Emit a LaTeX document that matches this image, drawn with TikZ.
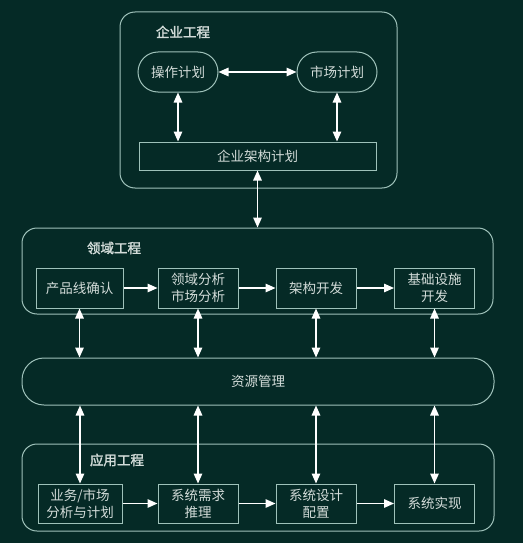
\documentclass[tikz,border=0pt]{standalone}
\usepackage{fontspec}
\setmainfont{Noto Sans CJK SC}[AutoFakeBold=2]
\usetikzlibrary{arrows.meta,positioning}
\definecolor{BgTeal}{HTML}{052A26}
\definecolor{LineTeal}{HTML}{9FC2BA}
\definecolor{TextGray}{HTML}{D3DCD9}

\begin{document}
\begin{tikzpicture}[x=1pt,y=-1pt,>={Triangle[length=10pt,width=8.5pt]},
  group/.style={draw=LineTeal,line width=1pt,rounded corners=15pt,inner sep=0pt},
  plan/.style={draw=LineTeal,line width=1pt,text=TextGray,align=center,inner sep=1pt,
    font=\fontsize{13.5}{17}\selectfont,minimum width=80pt,minimum height=40pt},
  pill/.style={plan,rounded corners=20pt},
  title/.style={text=TextGray,font=\bfseries\fontsize{13.5}{17}\selectfont},
  link/.style={<->,white,line width=1.5pt},
  flow/.style={->,white,line width=1.5pt}]
  \fill[BgTeal] (0,0) rectangle (523,543);
  \useasboundingbox (0,0) rectangle (523,543);

  \node[group,minimum width=277pt,minimum height=176pt] (ent) at (258.5,100) {};
  \node[title] (entT) at (183,32) {企业工程};
  \node[pill] (op) at (178,72) {操作计划};
  \node[pill] (mk) at (337,72) {市场计划};
  \node[plan,minimum width=237pt,minimum height=28pt] (ea) at (257.5,156) {企业架构计划};

  \node[group,minimum width=471pt,minimum height=86pt] (dom) at (257.5,271) {};
  \node[title] (domT) at (114,248) {领域工程};
  \node[plan,minimum width=87pt] (d1) at (79.5,288) {产品线确认};
  \node[plan] (d2) at (198,288) {领域分析\\市场分析};
  \node[plan] (d3) at (316,288) {架构开发};
  \node[plan] (d4) at (434.5,288) {基础设施\\开发};

  \node[group,rounded corners=22pt,minimum width=472pt,minimum height=47pt,
    text=TextGray,font=\fontsize{13.5}{17}\selectfont] (res) at (258,381.5) {资源管理};

  \node[group,minimum width=472pt,minimum height=87pt] (app) at (258,487.5) {};
  \node[title] (appT) at (117,460) {应用工程};
  \node[plan,minimum width=84pt,minimum height=39pt] (a1) at (80,503.5) {业务/市场\\分析与计划};
  \node[plan,minimum height=39pt] (a2) at (198,503.5) {系统需求\\推理};
  \node[plan,minimum height=39pt] (a3) at (316,503.5) {系统设计\\配置};
  \node[plan,minimum height=39pt] (a4) at (434.5,503.5) {系统实现};

  \draw[link] (op) -- (mk);
  \draw[link] (op.south) -- (op.south |- ea.north);
  \draw[link] (mk.south) -- (mk.south |- ea.north);
  \draw[link] (ea.south) -- (ea.south |- dom.north);
  \draw[flow] (d1) -- (d2);
  \draw[flow] (d2) -- (d3);
  \draw[flow] (d3) -- (d4);
  \draw[flow] (a1) -- (a2);
  \draw[flow] (a2) -- (a3);
  \draw[flow] (a3) -- (a4);
  \foreach \i in {1,...,4}{
    \draw[link] (d\i.south) -- (d\i.south |- res.north);
    \draw[link] (a\i.north |- res.south) -- (a\i.north);
  }
\end{tikzpicture}
\end{document}
